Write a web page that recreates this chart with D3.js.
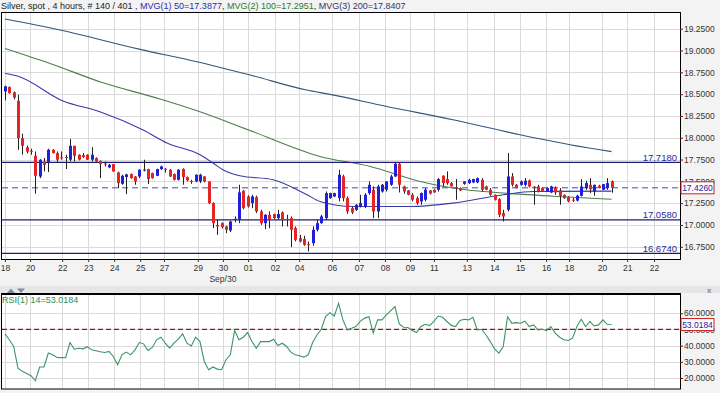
<!DOCTYPE html>
<html>
<head>
<meta charset="utf-8">
<script src="https://cdn.jsdelivr.net/npm/d3@7"></script>
<style>
  body { margin: 0; background: #f3f3f3; }
  svg { display: block; font-family: "Liberation Sans", Arial, sans-serif; }
</style>
</head>
<body>
<div id="chart"></div>
<script>
// 4 hour candles, oldest first
const opens = [18.531,18.581,18.52,18.424,17.996,17.89,17.85,17.793,17.556,17.728,17.717,17.862,17.824,17.775,17.78,17.748,17.908,17.805,17.80,17.805,
  17.748,17.767,17.735,17.705,17.66,17.698,17.602,17.472,17.55,17.583,17.556,17.556,17.625,17.641,17.595,17.564,17.641,17.645,17.633,17.583,
  17.518,17.641,17.549,17.505,17.499,17.499,17.556,17.499,17.251,17.00,17.021,16.983,16.937,17.06,17.06,17.392,17.327,17.251,17.32,17.155,
  17.021,17.117,17.125,17.079,17.144,17.07,17.079,16.964,16.849,16.838,16.78,16.792,16.945,17.021,17.079,17.308,17.327,17.308,17.556,17.308,
  17.193,17.174,17.212,17.212,17.365,17.404,17.155,17.384,17.404,17.461,17.556,17.702,17.442,17.396,17.346,17.308,17.270,17.289,17.396,17.404,
  17.404,17.564,17.526,17.48,17.43,17.423,17.472,17.48,17.488,17.488,17.518,17.442,17.404,17.346,17.296,17.136,17.174,17.556,17.461,17.461,
  17.461,17.51,17.44,17.442,17.423,17.384,17.373,17.423,17.396,17.346,17.32,17.29,17.28,17.335,17.423,17.461,17.384,17.449,17.404,17.423,17.50];
const highs = [18.596,18.589,18.53,18.493,18.046,17.91,17.874,17.843,17.755,17.767,17.874,17.87,17.843,17.843,17.805,17.987,17.908,17.81,17.824,17.81,
  17.893,17.775,17.74,17.728,17.70,17.70,17.61,17.576,17.587,17.59,17.56,17.64,17.748,17.645,17.60,17.645,17.68,17.65,17.64,17.59,
  17.64,17.65,17.555,17.518,17.58,17.587,17.56,17.50,17.26,17.06,17.03,16.99,17.05,17.098,17.461,17.40,17.34,17.346,17.335,17.174,
  17.125,17.155,17.13,17.174,17.155,17.117,17.098,16.983,16.887,16.876,16.811,16.983,17.059,17.117,17.384,17.37,17.37,17.633,17.576,17.327,
  17.212,17.24,17.346,17.365,17.499,17.442,17.461,17.47,17.50,17.576,17.717,17.717,17.45,17.40,17.365,17.327,17.373,17.423,17.40,17.41,
  17.537,17.57,17.614,17.49,17.526,17.43,17.50,17.53,17.53,17.545,17.537,17.45,17.423,17.35,17.308,17.174,17.824,17.594,17.47,17.51,
  17.537,17.52,17.445,17.461,17.43,17.43,17.45,17.442,17.423,17.35,17.33,17.31,17.346,17.526,17.507,17.537,17.461,17.46,17.47,17.537,17.51];
const lows = [18.428,18.505,18.44,17.862,17.805,17.82,17.805,17.358,17.537,17.614,17.606,17.82,17.717,17.748,17.641,17.728,17.728,17.74,17.767,17.745,
  17.728,17.72,17.537,17.671,17.65,17.61,17.423,17.461,17.354,17.53,17.461,17.537,17.614,17.469,17.53,17.56,17.63,17.60,17.55,17.51,
  17.51,17.461,17.50,17.472,17.49,17.48,17.49,17.24,16.964,16.887,16.96,16.906,16.918,17.03,17.021,17.18,17.20,17.193,17.136,17.002,
  16.952,16.964,17.07,17.059,16.983,16.983,16.746,16.811,16.80,16.761,16.696,16.761,16.926,17.014,17.059,17.30,17.32,17.27,17.27,17.128,
  17.125,17.16,17.201,17.193,17.346,17.079,17.079,17.37,17.384,17.449,17.549,17.373,17.358,17.34,17.270,17.232,17.232,17.270,17.35,17.37,
  17.384,17.442,17.461,17.44,17.289,17.39,17.46,17.47,17.48,17.48,17.384,17.40,17.335,17.28,17.09,17.04,17.155,17.442,17.42,17.45,
  17.442,17.43,17.232,17.373,17.38,17.38,17.365,17.346,17.232,17.30,17.26,17.265,17.27,17.327,17.404,17.365,17.335,17.42,17.40,17.404,17.37];
const closes = [18.589,18.512,18.46,17.996,17.908,17.84,17.845,17.564,17.748,17.69,17.862,17.824,17.748,17.765,17.775,17.908,17.793,17.748,17.78,17.748,
  17.805,17.728,17.698,17.695,17.69,17.614,17.48,17.564,17.58,17.537,17.499,17.633,17.635,17.526,17.537,17.641,17.671,17.635,17.556,17.518,
  17.633,17.549,17.511,17.495,17.576,17.576,17.499,17.251,17.021,16.983,16.975,16.945,17.04,17.07,17.373,17.193,17.212,17.327,17.155,17.021,
  17.117,17.059,17.079,17.125,17.059,17.06,16.945,16.830,16.811,16.773,16.775,16.945,17.021,17.098,17.365,17.365,17.365,17.576,17.308,17.155,
  17.144,17.232,17.251,17.346,17.461,17.155,17.442,17.461,17.499,17.556,17.702,17.461,17.384,17.346,17.289,17.251,17.365,17.404,17.36,17.373,
  17.526,17.48,17.48,17.442,17.42,17.396,17.499,17.518,17.526,17.537,17.404,17.404,17.346,17.289,17.117,17.098,17.556,17.461,17.423,17.499,
  17.507,17.442,17.43,17.384,17.384,17.423,17.442,17.373,17.335,17.308,17.27,17.28,17.335,17.442,17.48,17.41,17.461,17.423,17.468,17.48,17.426];

// moving averages: [bar, value]
const ma50 = [[0,18.737],[2.7,18.711],[13.4,18.421],[21.9,18.298],[31.9,18.088],[37.4,17.939],[45,17.805],[48,17.71],[50.3,17.633],
  [54.2,17.564],[61.9,17.518],[69.7,17.346],[72.7,17.27],[80.3,17.212],[93.5,17.212],[103.4,17.251],[115,17.346],[121.9,17.384],[140,17.388]];
const ma100 = [[0,19.024],[10.4,18.852],[21.9,18.642],[35.8,18.444],[45,18.298],[56.1,18.092],[72.7,17.786],[84.3,17.671],[95.8,17.499],
  [103.4,17.423],[115,17.366],[126.5,17.33],[140,17.295]];
const ma200 = [[0,19.361],[12.7,19.235],[31.2,19.013],[44.3,18.872],[56.6,18.719],[69.6,18.547],[75,18.497],[88.1,18.359],[103.4,18.206],
  [118.9,18.034],[130.4,17.92],[140,17.841]];

const rsi = [47.3,43.6,39.5,26.1,24.1,22.8,21.4,18.3,26.8,26.8,35.4,34.3,32.7,32.6,32.5,41.9,37.8,38.4,38.0,39.3,
  37.4,36.8,36.2,35.8,36.4,33.3,28.2,34.3,36.0,34.3,37.4,41.9,41.1,37.0,38.9,43.6,45.2,41.5,38.4,41.5,
  44.0,47.3,41.5,39.8,45.2,42.5,30.2,25.1,26.8,25.5,25.1,31.3,34.3,49.3,43.6,45.2,48.1,42.5,38.4,42.5,
  42.5,42.5,44.0,40.1,41.5,39.5,36.0,34.3,33.7,32.9,34.3,41.9,46.6,50.1,57.9,60.4,58.3,66.1,55.9,49.7,
  50.7,51.8,55.0,57.0,57.9,47.7,55.9,55.9,59.0,61.5,64.1,53.4,51.4,51.2,49.3,48.1,51.8,53.2,52.4,55.0,
  58.3,57.5,54.9,52.5,51.8,55.5,56.3,55.9,57.5,49.7,50.1,46.7,42.5,38.0,35.4,39.5,57.9,53.8,54.2,53.8,
  55.1,51.8,52.8,49.7,50.1,49.3,51.8,47.7,45.2,43.6,43.2,44.6,51.8,56.3,51.8,54.9,52.2,52.8,55.9,53.2,53.0184];

const levels = [17.718, 17.058, 16.674];
const lastPrice = 17.426;
const lastRsi = 53.0184;

const dateLabels = ["18","20","22","23","24","25","27","29","30","01","02","04","06","07","08","09","11","13","14","15","16","18","20","21","22"];
const dateBars = [0,5.8,13.2,19.2,25.2,31.2,36.7,44.5,50.3,56.1,62.3,67.9,75.5,81.7,87.7,93.5,99,106.6,112.9,118.9,124.9,130.2,137.8,143.6,149.8];
const priceTicks = [16.75,17.0,17.25,17.5,17.75,18.0,18.25,18.5,18.75,19.0,19.25];
const rsiTicks = [20,30,40,50,60];

const width = 720;
const height = 393;
const main = { left: 2, right: 680, top: 13, bottom: 259 };
const low = { left: 2, right: 680, top: 294, bottom: 389 };

const svg = d3.select('#chart')
    .append('svg')
    .attr('width', width)
    .attr('height', height)
    .attr('viewBox', [0, 0, width, height]);

const x = d3.scaleLinear().domain([-0.69, 155.8]).range([main.left, main.right]);
const y = d3.scaleLinear().domain([16.61, 19.43]).range([main.bottom, main.top]);
const yr = d3.scaleLinear().domain([13.2, 71.9]).range([low.bottom, low.top]);
const fmt = d3.format('.4f');

svg.append('rect').attr('width', width).attr('height', height).attr('fill', '#f3f3f3');
svg.append('rect').attr('x', 0).attr('y', 286).attr('width', width).attr('height', 7).attr('fill', '#e6e6e6');

// plot areas
[main, low].forEach(p => {
  svg.append('rect')
    .attr('x', p.left).attr('y', p.top)
    .attr('width', p.right - p.left).attr('height', p.bottom - p.top)
    .attr('fill', '#fff');
});

// grid
function grid(p, ys, scale) {
  const g = svg.append('g').attr('stroke', '#dadada').attr('stroke-width', 1);
  g.selectAll('line.v').data(dateBars).join('line')
    .attr('x1', d => Math.round(x(d)) + 0.5).attr('x2', d => Math.round(x(d)) + 0.5)
    .attr('y1', p.top).attr('y2', p.bottom);
  g.selectAll('line.h').data(ys).join('line')
    .attr('x1', p.left).attr('x2', p.right)
    .attr('y1', d => Math.round(scale(d)) + 0.5).attr('y2', d => Math.round(scale(d)) + 0.5);
}
grid(main, priceTicks, y);
grid(low, rsiTicks, yr);

// moving averages
const maLine = d3.line().x(d => x(d[0])).y(d => y(d[1])).curve(d3.curveMonotoneX);
[[ma200, '#34567a'], [ma100, '#4b7f4b'], [ma50, '#3a3aa8']].forEach(([pts, col]) => {
  svg.append('path').datum(pts)
    .attr('fill', 'none').attr('stroke', col).attr('stroke-width', 1.1)
    .attr('d', maLine);
});

// support / resistance levels
const lv = svg.append('g');
lv.selectAll('line').data(levels).join('line')
  .attr('x1', main.left).attr('x2', main.right)
  .attr('y1', d => y(d)).attr('y2', d => y(d))
  .attr('stroke', '#1c1c78').attr('stroke-width', 1.2);
lv.selectAll('text').data(levels).join('text')
  .attr('x', main.right - 3).attr('y', d => y(d) - 1.5)
  .attr('text-anchor', 'end').attr('font-size', '9.5px').attr('fill', '#2a2a9a')
  .text(d => fmt(d));
svg.append('line')
  .attr('x1', main.left).attr('x2', main.right)
  .attr('y1', y(lastPrice)).attr('y2', y(lastPrice))
  .attr('stroke', '#4646b0').attr('stroke-width', 1).attr('stroke-dasharray', '6,4');

// candles
const idx = d3.range(opens.length);
const cg = svg.append('g');
cg.selectAll('line').data(idx).join('line')
  .attr('x1', i => Math.round(x(i)) + 0.5).attr('x2', i => Math.round(x(i)) + 0.5)
  .attr('y1', i => y(highs[i])).attr('y2', i => y(lows[i]))
  .attr('stroke', '#222').attr('stroke-width', 1);
cg.selectAll('rect').data(idx).join('rect')
  .attr('x', i => Math.round(x(i)) - 1)
  .attr('width', 3)
  .attr('y', i => y(Math.max(opens[i], closes[i])))
  .attr('height', i => Math.max(1, Math.abs(y(opens[i]) - y(closes[i]))))
  .attr('fill', i => closes[i] >= opens[i] ? '#1f1fdc' : '#e22626');

// RSI
svg.append('line')
  .attr('x1', low.left).attr('x2', low.right)
  .attr('y1', yr(50)).attr('y2', yr(50))
  .attr('stroke', '#8b1a1a').attr('stroke-width', 1.2).attr('stroke-dasharray', '5,3');
svg.append('path').datum(rsi)
  .attr('fill', 'none').attr('stroke', '#3b9468').attr('stroke-width', 1.1)
  .attr('d', d3.line().x((d, i) => x(i)).y(d => yr(d)));
svg.append('text').attr('x', low.left).attr('y', low.top + 9)
  .attr('font-size', '9px').attr('fill', '#2e8b57').text('RSI(1) 14=53.0184');

// frames
svg.append('rect').attr('x', main.left - 0.5).attr('y', main.top - 0.5)
  .attr('width', main.right - main.left + 1).attr('height', main.bottom - main.top + 1)
  .attr('fill', 'none').attr('stroke', '#000');
svg.append('rect').attr('x', low.left - 0.5).attr('y', low.top)
  .attr('width', low.right - low.left + 1).attr('height', low.bottom - low.top)
  .attr('fill', 'none').attr('stroke', '#000');
svg.append('line').attr('x1', low.left - 1).attr('x2', low.right + 1)
  .attr('y1', low.top).attr('y2', low.top).attr('stroke', '#000').attr('stroke-width', 2);

// axes
function styleAxis(g) {
  g.select('.domain').remove();
  g.selectAll('.tick line').attr('stroke', '#7a1010');
  g.selectAll('.tick text').attr('fill', '#333').attr('font-size', '8.5px')
    .attr('font-family', '"Liberation Sans", Arial, sans-serif');
}
svg.append('g').attr('transform', `translate(${main.right},0)`)
  .call(d3.axisRight(y).tickValues(priceTicks).tickSize(3).tickPadding(1).tickFormat(fmt))
  .call(styleAxis);
svg.append('g').attr('transform', `translate(${low.right},0)`)
  .call(d3.axisRight(yr).tickValues(rsiTicks).tickSize(3).tickPadding(1).tickFormat(fmt))
  .call(styleAxis);
svg.append('g').attr('transform', `translate(0,${main.bottom})`)
  .call(d3.axisBottom(x).tickValues(dateBars).tickSize(3).tickPadding(3).tickFormat((d, i) => dateLabels[i]))
  .call(styleAxis)
  .call(g => g.selectAll('.tick line').attr('stroke', '#333'));
svg.append('text').attr('x', x(dateBars[8])).attr('y', 282)
  .attr('text-anchor', 'middle').attr('font-size', '8.5px').attr('fill', '#333').text('Sep/30');

// last value boxes
function valueBox(v, yy) {
  const g = svg.append('g').attr('transform', `translate(${main.right + 1},${yy})`);
  g.append('rect').attr('x', 0).attr('y', -6).attr('width', 33).attr('height', 12)
    .attr('fill', '#fff').attr('stroke', '#c42020');
  g.append('text').attr('x', 16.5).attr('y', 3.2).attr('text-anchor', 'middle')
    .attr('font-size', '8.5px').attr('fill', '#2020a0').text(fmt(v));
}
valueBox(lastPrice, y(lastPrice));
valueBox(lastRsi, yr(lastRsi));

// panel controls
svg.append('path').attr('d', 'M7,293 L11,288.5 L15,293 Z M17,288.5 L25,288.5 L21,293 Z').attr('fill', '#7d8aa8');
svg.append('text').attr('x', 707).attr('y', 293).attr('font-size', '8px').attr('font-weight', 'bold')
  .attr('fill', '#7d8aa8').text('x');

// title
const title = svg.append('text').attr('x', 1).attr('y', 9).attr('font-size', '9px');
title.append('tspan').attr('fill', '#222').text('Silver, spot , 4 hours, # 140 / 401 , ');
title.append('tspan').attr('fill', '#2b2bb0').text('MVG(1) 50=17.3877');
title.append('tspan').attr('fill', '#222').text(', ');
title.append('tspan').attr('fill', '#2d7a2d').text('MVG(2) 100=17.2951');
title.append('tspan').attr('fill', '#222').text(', ');
title.append('tspan').attr('fill', '#33336e').text('MVG(3) 200=17.8407');
</script>
</body>
</html>
